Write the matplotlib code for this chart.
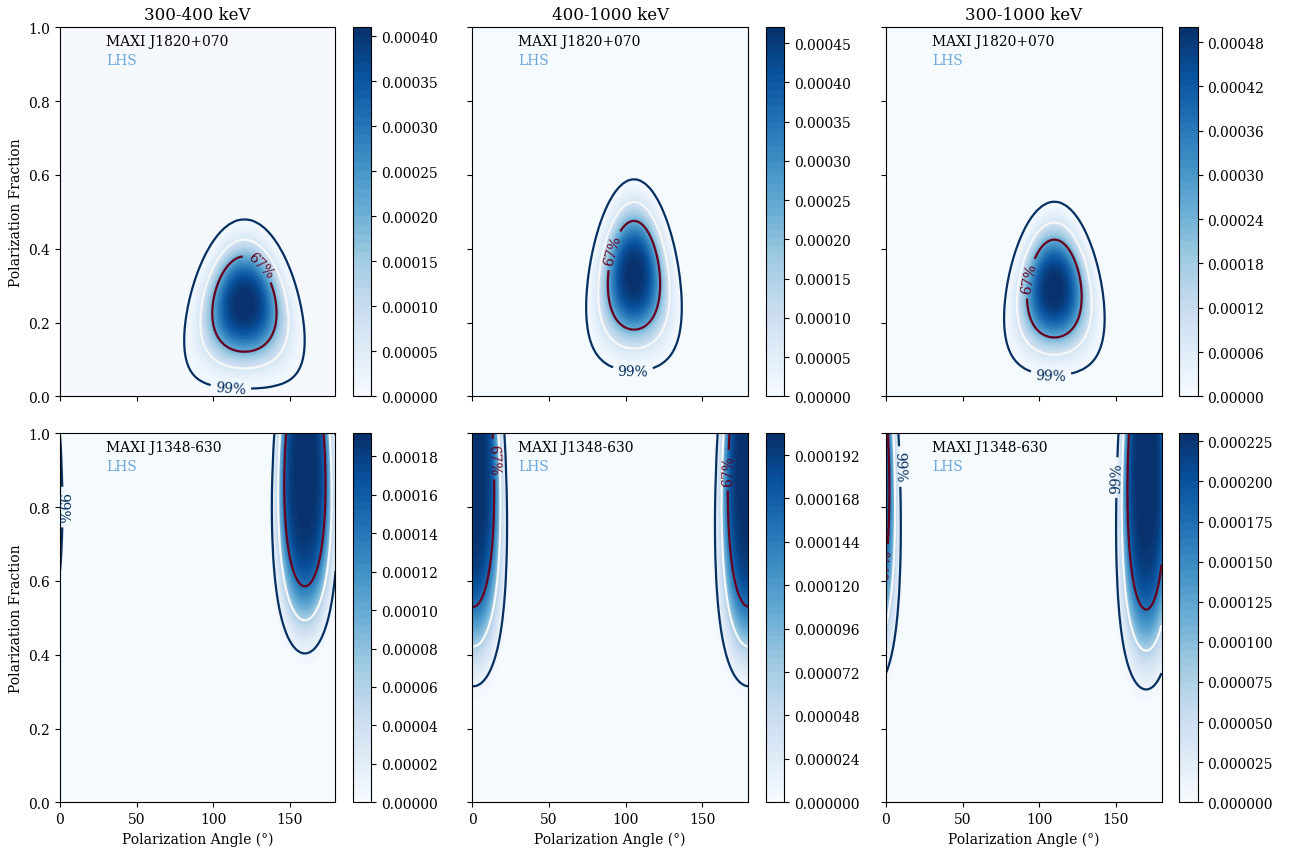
import numpy as np
import matplotlib
matplotlib.use("Agg")
from matplotlib import pyplot as plt

#############################################################
# Data
#############################################################
bands = ["300-400 keV", "400-1000 keV", "300-1000 keV"]
sources = ["MAXI J1820+070", "MAXI J1348-630"]
states = ["LHS", "LHS"]
cred_probs = [0.99, 0.90, 0.67]
cred_names = ["99%", None, "67%"]

# posterior centre (fraction, angle in deg), radial width, angular width (deg)
# and peak density; rows = source, cols = energy band
pol_frac0 = [[0.25, 0.328, 0.292], [0.90, 0.90, 0.90]]
pol_ang0 = [[120.5, 105.5, 110.0], [160.0, 0.5, 170.0]]
width_frac = [[0.144, 0.165, 0.149], [0.40, 0.471, 0.478]]
width_ang = [[23.0, 18.9, 19.8], [17.0, 17.2, 15.3]]
peak = [[0.000409, 0.000468, 0.000498], [0.000190, 0.000203, 0.000229]]
# radial profile exponent per source (1 = gaussian)
shape_index = [1.5, 2.5]

# angular spread grows towards low polarization fraction
ang_index = 0.35

ang = np.linspace(0, 180, 181)
frac = np.linspace(0, 1, 101)
A, P = np.meshgrid(ang, frac)


def posterior(p0, a0, s_frac, s_ang, k, zmax):
    d = (A - a0 + 90) % 180 - 90
    x = (P - p0)/s_frac
    y = (np.maximum(P, 1e-3)/p0)**ang_index*d/s_ang
    z = np.exp(-(x**2 + y**2)**k)
    return z/z.max()*zmax


def cred_levels(z, probs):
    zs = np.sort(z.ravel())[::-1]
    cum = np.cumsum(zs)/zs.sum()
    return [zs[np.searchsorted(cum, p)] for p in probs]


#############################################################
# Plot
#############################################################
plt.rcParams["font.family"] = ["DejaVu Serif"]
plt.rcParams["font.size"] = 10

W, H = 1293, 853
ax_x = [60, 472.5, 886]
cb_x = [352.5, 765.5, 1179]
row_top = [28.3, 434.3]
ax_w, ax_h, cb_w = 275.5, 369.0, 18.5

line_cols = ["#053061", "#f7f7f7", "#67001f"]
# where the 99% / 67% labels sit on each panel
label_pos = [[([(112, 0.05)], [(132, 0.36)]),
              ([(105, 0.10)], [(88, 0.40)]),
              ([(108, 0.08)], [(93, 0.32)])],
             [([(1, 0.80)], []),
              ([], [(14, 0.93), (166, 0.90)]),
              ([(10, 0.91), (151, 0.88)], [(1, 0.55)])]]

fig = plt.figure(figsize=(W/100, H/100), dpi=100)

for row in range(2):
    for col in range(3):
        bottom = (H - row_top[row] - ax_h)/H
        ax = fig.add_axes([ax_x[col]/W, bottom, ax_w/W, ax_h/H])
        cax = fig.add_axes([cb_x[col]/W, bottom, cb_w/W, ax_h/H])

        z = posterior(pol_frac0[row][col], pol_ang0[row][col],
                      width_frac[row][col], width_ang[row][col],
                      shape_index[row], peak[row][col])
        cf = ax.contourf(A, P, z, levels=50, cmap="Blues")
        lv = cred_levels(z, cred_probs)
        pos = {"99%": label_pos[row][col][0], "67%": label_pos[row][col][1]}
        for level, colour, name in zip(lv, line_cols, cred_names):
            cs = ax.contour(A, P, z, levels=[level], colors=colour, linewidths=1.6)
            if name and pos[name]:
                ax.clabel(cs, fmt={cs.levels[0]: name}, fontsize=10, manual=pos[name])

        ax.text(30, 0.962, sources[row], va="center")
        ax.text(30, 0.912, states[row], va="center", color="#6fa8dc")

        ax.set_xlim(0, 180)
        ax.set_ylim(0, 1)
        ax.set_xticks([0, 50, 100, 150])
        ax.set_yticks(np.arange(0, 1.01, 0.2))
        if row == 0:
            ax.set_title(bands[col], fontsize=12)
            ax.tick_params(labelbottom=False)
        else:
            ax.set_xlabel("Polarization Angle (°)")
        if col == 0:
            ax.set_ylabel("Polarization Fraction")
        else:
            ax.tick_params(labelleft=False)

        fig.colorbar(cf, cax=cax)

fig.savefig("out.png", dpi=100)
